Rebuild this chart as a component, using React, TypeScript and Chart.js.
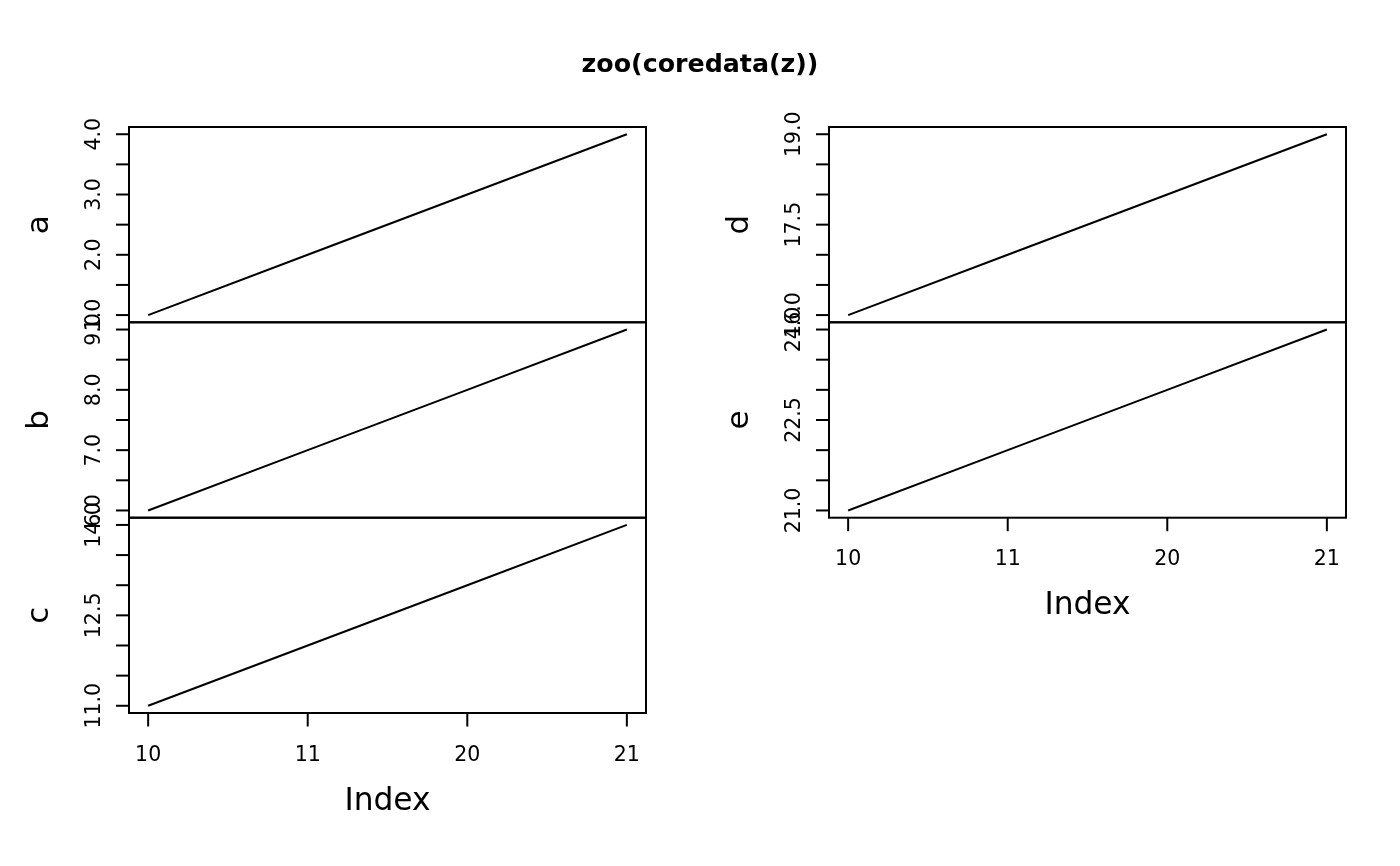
import React, { useEffect, useRef } from "react";
import { Chart, registerables } from "chart.js";
Chart.register(...registerables);

const W = 1400;
const H = 866;
const FONT = '"DejaVu Sans", "Liberation Sans", sans-serif';
const LW = 2;

// ---- data ----
const indexValues = [1, 2, 3, 4];
const indexLabels = ["10", "11", "20", "21"];
const seriesNames = ["a", "b", "c", "d", "e"];
const seriesA = [1, 2, 3, 4];
const seriesB = [6, 7, 8, 9];
const seriesC = [11, 12, 13, 14];
const seriesD = [16, 17, 18, 19];
const seriesE = [21, 22, 23, 24];

const tickValuesA = [1, 1.5, 2, 2.5, 3, 3.5, 4];
const tickLabelsA = ["1.0", "", "2.0", "", "3.0", "", "4.0"];
const tickValuesB = [6, 6.5, 7, 7.5, 8, 8.5, 9];
const tickLabelsB = ["6.0", "", "7.0", "", "8.0", "", "9.0"];
const tickValuesC = [11, 11.5, 12, 12.5, 13, 13.5, 14];
const tickLabelsC = ["11.0", "", "", "12.5", "", "", "14.0"];
const tickValuesD = [16, 16.5, 17, 17.5, 18, 18.5, 19];
const tickLabelsD = ["16.0", "", "", "17.5", "", "", "19.0"];
const tickValuesE = [21, 21.5, 22, 22.5, 23, 23.5, 24];
const tickLabelsE = ["21.0", "", "", "22.5", "", "", "24.0"];

const titleText = "zoo(coredata(z))";
const xAxisTitle = "Index";

// ---- layout ----
const COLS = [
  { left: 129, right: 646 },
  { left: 829, right: 1346 },
];
const ROWS = [127, 322.3, 517.7, 713];

type Panel = {
  name: string;
  values: number[];
  ticks: number[];
  tickLabels: string[];
  col: number;
  row: number;
  xAxis: boolean;
  title: boolean;
};

const panels: Panel[] = [
  { name: seriesNames[0], values: seriesA, ticks: tickValuesA, tickLabels: tickLabelsA, col: 0, row: 0, xAxis: false, title: true },
  { name: seriesNames[1], values: seriesB, ticks: tickValuesB, tickLabels: tickLabelsB, col: 0, row: 1, xAxis: false, title: false },
  { name: seriesNames[2], values: seriesC, ticks: tickValuesC, tickLabels: tickLabelsC, col: 0, row: 2, xAxis: true, title: false },
  { name: seriesNames[3], values: seriesD, ticks: tickValuesD, tickLabels: tickLabelsD, col: 1, row: 0, xAxis: false, title: false },
  { name: seriesNames[4], values: seriesE, ticks: tickValuesE, tickLabels: tickLabelsE, col: 1, row: 1, xAxis: true, title: false },
];

function makePlugin(p: Panel) {
  return {
    id: "rPlot" + p.name,
    afterDraw(chart: any) {
      const { ctx, chartArea: ca } = chart;
      const xs = chart.scales.x;
      const ys = chart.scales.y;
      ctx.save();
      ctx.strokeStyle = "#000";
      ctx.fillStyle = "#000";
      ctx.lineWidth = LW;
      ctx.strokeRect(ca.left, ca.top, ca.right - ca.left, ca.bottom - ca.top);

      const line = (x1: number, y1: number, x2: number, y2: number) => {
        ctx.beginPath();
        ctx.moveTo(x1, y1);
        ctx.lineTo(x2, y2);
        ctx.stroke();
      };
      const rotText = (t: string, x: number, y: number, font: string) => {
        ctx.save();
        ctx.translate(x, y);
        ctx.rotate(-Math.PI / 2);
        ctx.font = font;
        ctx.textAlign = "center";
        ctx.textBaseline = "alphabetic";
        ctx.fillText(t, 0, 0);
        ctx.restore();
      };

      // y ticks & labels
      p.ticks.forEach((v, i) => {
        const y = ys.getPixelForValue(v);
        line(ca.left - 13, y, ca.left, y);
        if (p.tickLabels[i]) rotText(p.tickLabels[i], ca.left - 29.5, y, `20.5px ${FONT}`);
      });
      // y title
      rotText(p.name, ca.left - 81, (ca.top + ca.bottom) / 2, `31px ${FONT}`);

      // x axis
      if (p.xAxis) {
        ctx.font = `20.5px ${FONT}`;
        ctx.textAlign = "center";
        ctx.textBaseline = "alphabetic";
        indexValues.forEach((v, i) => {
          const x = xs.getPixelForValue(v);
          line(x, ca.bottom, x, ca.bottom + 13.5);
          ctx.fillText(indexLabels[i], x, ca.bottom + 47.5);
        });
        ctx.font = `31.3px ${FONT}`;
        ctx.fillText(xAxisTitle, (ca.left + ca.right) / 2, ca.bottom + 96.5);
      }

      if (p.title) {
        ctx.font = `bold 25.3px ${FONT}`;
        ctx.textAlign = "center";
        ctx.textBaseline = "alphabetic";
        ctx.fillText(titleText, W / 2, 72);
      }
      ctx.restore();
    },
  };
}

function PanelChart({ p }: { p: Panel }) {
  const ref = useRef<HTMLCanvasElement | null>(null);
  useEffect(() => {
    if (!ref.current) return;
    const col = COLS[p.col];
    const top = ROWS[p.row];
    const bottom = ROWS[p.row + 1];
    const xMin = Math.min(...indexValues);
    const xMax = Math.max(...indexValues);
    const xPad = (xMax - xMin) * 0.04;
    const yMin = Math.min(...p.values);
    const yMax = Math.max(...p.values);
    const yPad = (yMax - yMin) * 0.04;
    const chart = new Chart(ref.current, {
      type: "line",
      data: {
        datasets: [
          {
            label: p.name,
            data: p.values.map((v, i) => ({ x: indexValues[i], y: v })),
            borderColor: "#000",
            borderWidth: LW,
            pointRadius: 0,
            fill: false,
            tension: 0,
          },
        ],
      },
      options: {
        responsive: false,
        animation: false,
        events: [],
        layout: {
          padding: { left: col.left, right: W - col.right, top, bottom: H - bottom },
        },
        scales: {
          x: { type: "linear", display: false, min: xMin - xPad, max: xMax + xPad, bounds: "data" },
          y: { type: "linear", display: false, min: yMin - yPad, max: yMax + yPad, bounds: "data" },
        },
        plugins: {
          legend: { display: false },
          tooltip: { enabled: false },
          title: { display: false },
        },
      },
      plugins: [makePlugin(p)],
    } as any);
    return () => chart.destroy();
  }, [p]);
  return (
    <canvas
      ref={ref}
      width={W}
      height={H}
      style={{ position: "absolute", left: 0, top: 0, width: W, height: H }}
    />
  );
}

export default function App() {
  return (
    <div style={{ position: "fixed", left: 0, top: 0, width: W, height: H, background: "#fff" }}>
      {panels.map((p) => (
        <PanelChart key={p.name} p={p} />
      ))}
    </div>
  );
}
